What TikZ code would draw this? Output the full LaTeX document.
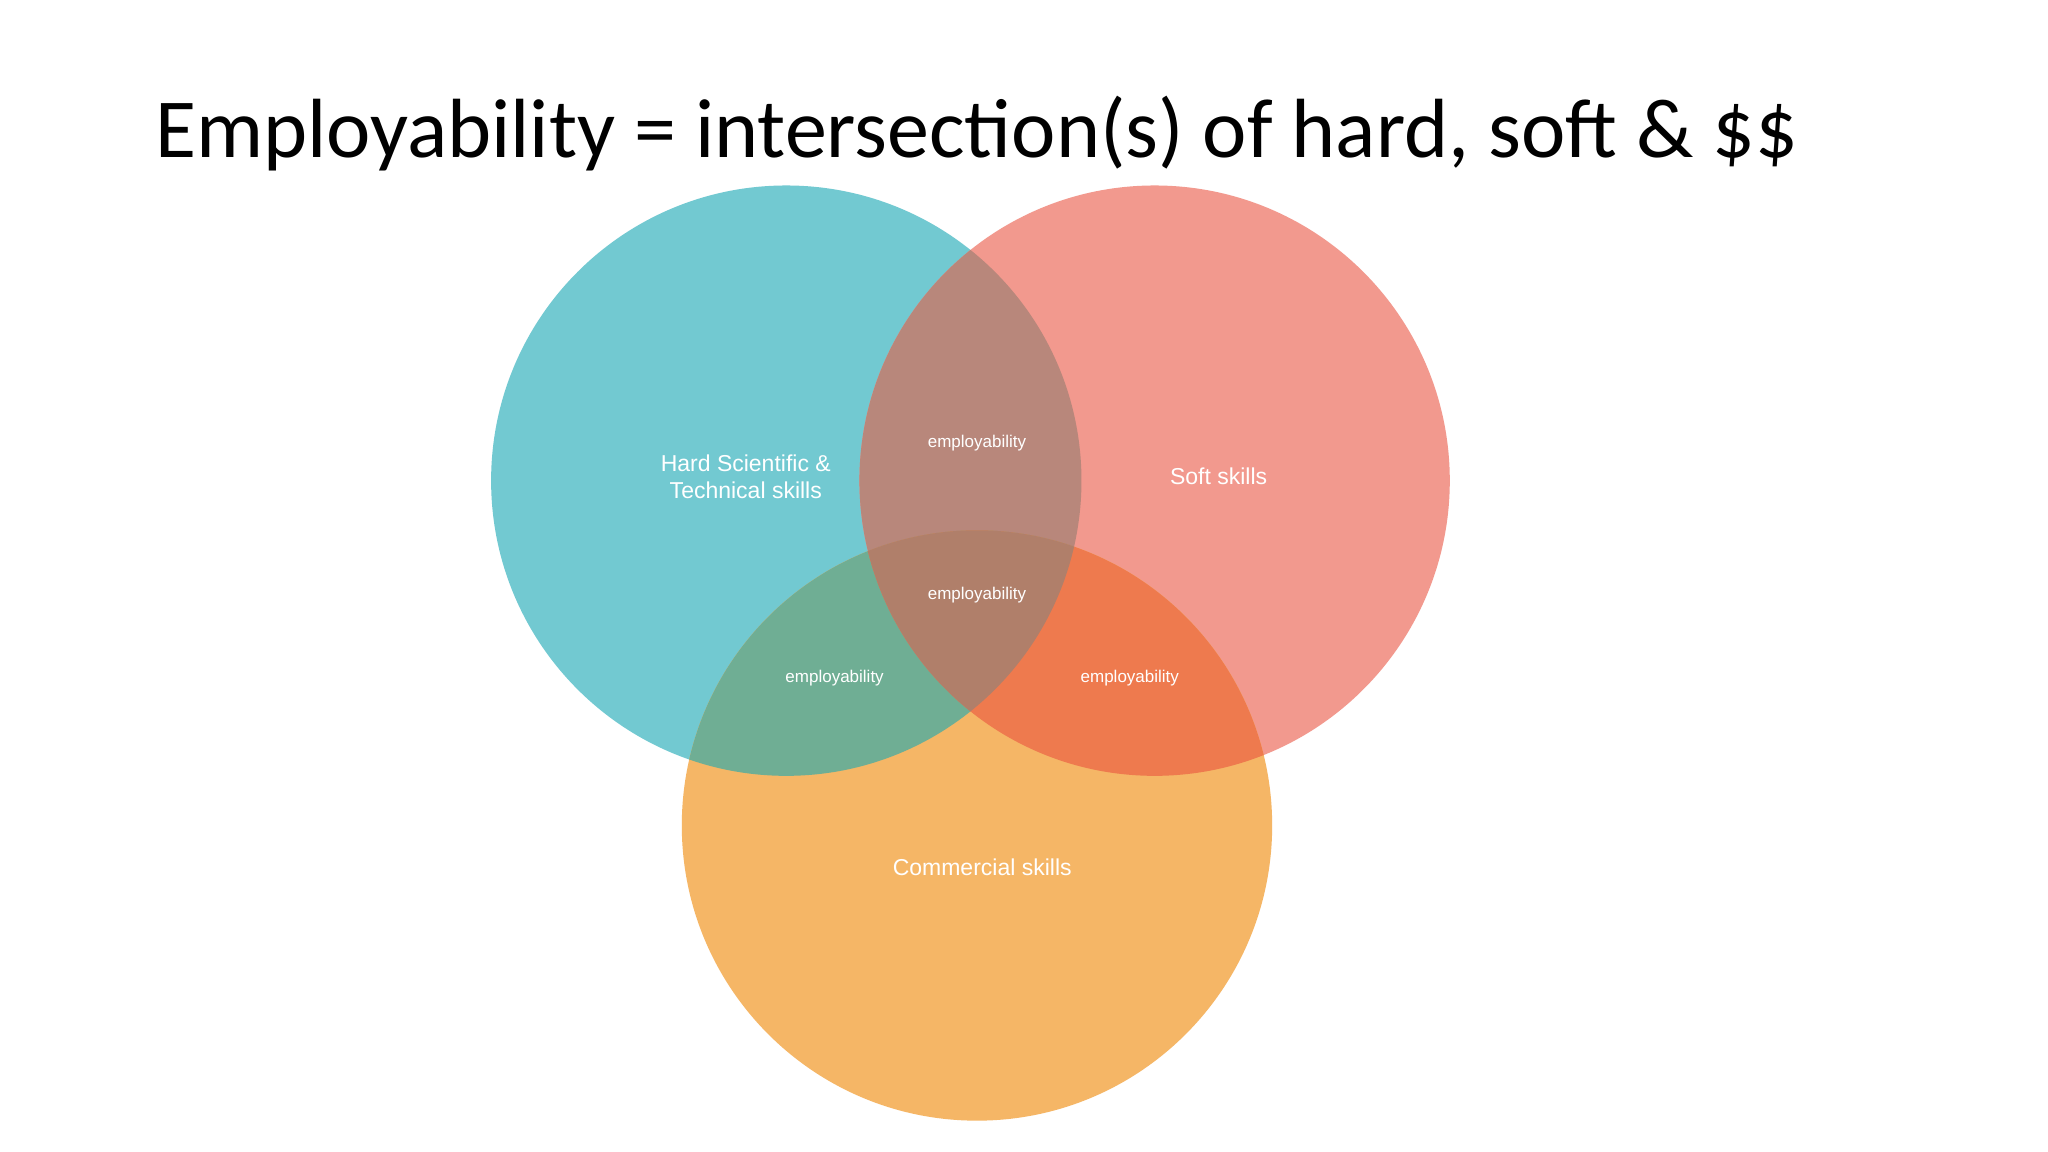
\documentclass[tikz,border=0pt]{standalone}
\usepackage{fontspec}
\setmainfont{Carlito}
\newfontfamily\lab{Liberation Sans}
\definecolor{cT}{HTML}{72C9D1}
\definecolor{cR}{HTML}{F2998E}
\definecolor{cO}{HTML}{F5B666}
\definecolor{cTR}{HTML}{B8877B}
\definecolor{cTO}{HTML}{6FAE94}
\definecolor{cRO}{HTML}{EE7A4E}
\definecolor{cAll}{HTML}{B07F6A}
\tikzset{lbl/.style={text=white,font=\lab\fontsize{23}{27}\selectfont,align=center},
 sm/.style={text=white,font=\lab\fontsize{17}{20}\selectfont}}
\begin{document}
\begin{tikzpicture}[x=1.306pt,y=-1.306pt]
\useasboundingbox (0,0) rectangle (1568,882);
\fill[white] (0,0) rectangle (1568,882);
\def\T{(602,368) circle[radius=226]}
\def\R{(884,368) circle[radius=226]}
\def\O{(748,632) circle[radius=226]}
\fill[cT] \T; \fill[cR] \R; \fill[cO] \O;
\begin{scope}\clip \T; \fill[cTR] \R; \fill[cTO] \O; \end{scope}
\begin{scope}\clip \R; \fill[cRO] \O; \end{scope}
\begin{scope}\clip \T; \clip \R; \fill[cAll] \O; \end{scope}
\node[font=\fontsize{84}{90}\selectfont,anchor=west] (title) at (116,102) {Employability = intersection(s) of hard, soft \& \$\$};
\node[lbl] (hard) at (571,365) {Hard Scientific \&\\Technical skills};
\node[lbl] (soft) at (933,365) {Soft skills};
\node[lbl] (com) at (752,664) {Commercial skills};
\node[sm] (e1) at (748,339) {employability};
\node[sm] (e2) at (748,456) {employability};
\node[sm] (e3) at (639,519) {employability};
\node[sm] (e4) at (865,519) {employability};
\end{tikzpicture}
\end{document}
